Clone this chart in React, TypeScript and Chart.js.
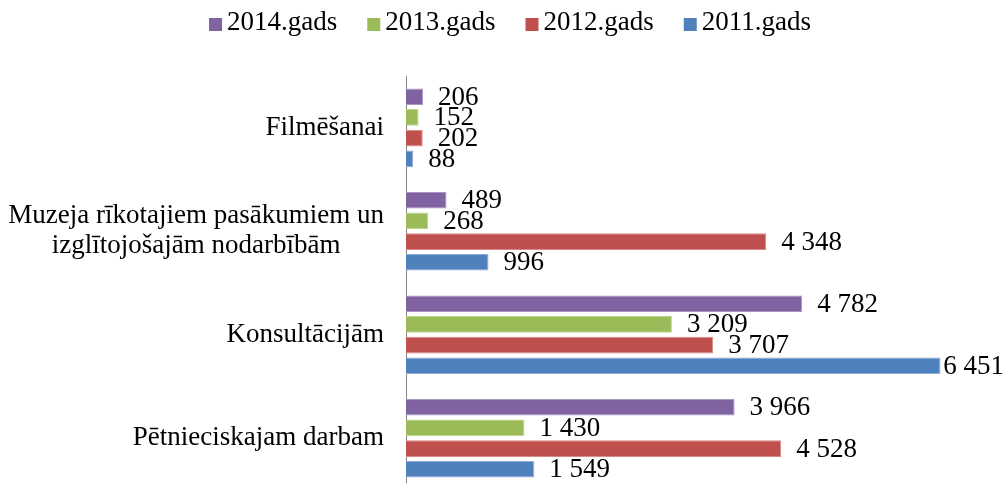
import React, { useEffect, useRef } from 'react';
import { Chart, registerables } from 'chart.js';

Chart.register(...registerables);

const categories: string[][] = [
  ['Filmēšanai'],
  ['Muzeja rīkotajiem pasākumiem un', 'izglītojošajām nodarbībām'],
  ['Konsultācijām'],
  ['Pētnieciskajam darbam'],
];
const seriesLabels = ['2014.gads', '2013.gads', '2012.gads', '2011.gads'];
const values2014 = [206, 489, 4782, 3966];
const values2013 = [152, 268, 3209, 1430];
const values2012 = [202, 4348, 3707, 4528];
const values2011 = [88, 996, 6451, 1549];
const seriesColors = ['#8064A2', '#9BBB59', '#C0504D', '#4F81BD'];
const borderColors = ['#A996C2', '#BBD38C', '#D98A88', '#8EADD6'];
const xMax = 7000;

const FONT_SIZE = 27;
const FONT = `${FONT_SIZE}px "Liberation Serif"`;

const fmt = (v: number) => String(v).replace(/\B(?=(\d{3})+(?!\d))/g, ' ');

function textWidth(ctx: CanvasRenderingContext2D, t: string) {
  ctx.font = FONT;
  return ctx.measureText(t).width;
}

function drawText(
  ctx: CanvasRenderingContext2D,
  t: string,
  x: number,
  y: number,
  align: CanvasTextAlign,
  baseline: CanvasTextBaseline
) {
  ctx.save();
  ctx.font = FONT;
  ctx.fillStyle = '#000';
  ctx.textAlign = align;
  ctx.textBaseline = baseline;
  ctx.fillText(t, x, y);
  ctx.restore();
}

const textPlugin = {
  id: 'customText',
  afterDraw(chart: any) {
    const ctx: CanvasRenderingContext2D = chart.ctx;
    // Legend
    const box = 13;
    const boxGap = 5;
    const itemGap = 30;
    const widths = seriesLabels.map((l) => textWidth(ctx, l));
    const total =
      widths.reduce((a, b) => a + b, 0) + seriesLabels.length * (box + boxGap) + (seriesLabels.length - 1) * itemGap;
    let lx = 510 - total / 2;
    const baseY = 30;
    seriesLabels.forEach((l, i) => {
      ctx.fillStyle = seriesColors[i];
      ctx.fillRect(lx, baseY - 12, box, box);
      drawText(ctx, l, lx + box + boxGap, baseY, 'left', 'alphabetic');
      lx += box + boxGap + widths[i] + itemGap;
    });

    // Category labels
    const yScale = chart.scales.y;
    const rightEdge = yScale.right - 22;
    const lineH = 30;
    categories.forEach((lines, i) => {
      const cy = yScale.getPixelForValue(i);
      const ws = lines.map((l) => textWidth(ctx, l));
      const maxW = Math.max(...ws);
      const cx = rightEdge - maxW / 2;
      lines.forEach((l, j) => {
        const ly = cy + (j - (lines.length - 1) / 2) * lineH;
        drawText(ctx, l, cx, ly, 'center', 'middle');
      });
    });

    // Data labels
    chart.data.datasets.forEach((ds: any, di: number) => {
      const meta = chart.getDatasetMeta(di);
      meta.data.forEach((el: any, i: number) => {
        const t = fmt(ds.data[i]);
        const w = textWidth(ctx, t);
        let x = el.x + 15;
        if (x + w > chart.width - 4) x = chart.width - 4 - w;
        drawText(ctx, t, x, el.y + 1, 'left', 'middle');
      });
    });
  },
};

export default function App() {
  const ref = useRef<HTMLCanvasElement | null>(null);
  useEffect(() => {
    let chart: Chart | null = null;
    let cancelled = false;
    const build = () => {
      if (cancelled || !ref.current) return;
      const seriesValues = [values2014, values2013, values2012, values2011];
      chart = new Chart(ref.current, {
        type: 'bar',
        data: {
          labels: categories,
          datasets: seriesLabels.map((label, i) => ({
            label,
            data: seriesValues[i],
            backgroundColor: seriesColors[i],
            borderColor: borderColors[i],
            borderWidth: 1,
            categoryPercentage: 0.8,
            barPercentage: 0.8,
          })),
        },
        options: {
          indexAxis: 'y',
          animation: false,
          responsive: true,
          maintainAspectRatio: false,
          layout: { padding: { top: 76, bottom: 6, right: 22, left: 0 } },
          plugins: { legend: { display: false }, tooltip: { enabled: false } },
          scales: {
            x: { display: false, min: 0, max: xMax },
            y: {
              type: 'category',
              grid: { display: false },
              border: { display: true, color: '#868686', width: 1 },
              ticks: { display: false },
              afterFit: (scale: any) => {
                scale.width = 406;
              },
            },
          },
        },
        plugins: [textPlugin],
      });
    };
    const fonts = (document as any).fonts;
    if (fonts && fonts.load) {
      fonts.load(FONT, 'Filmēšanai 0123456789').then(build, build);
    } else {
      build();
    }
    return () => {
      cancelled = true;
      if (chart) chart.destroy();
    };
  }, []);

  return (
    <div style={{ position: 'absolute', left: 0, top: 0, width: 1008, height: 483, overflow: 'hidden', background: '#fff' }}>
      <span style={{ fontFamily: '"Liberation Serif"', position: 'absolute', left: -1000, top: 0 }}>Filmēšanai</span>
      <div style={{ position: 'relative', width: 1008, height: 496 }}>
        <canvas ref={ref} />
      </div>
    </div>
  );
}
